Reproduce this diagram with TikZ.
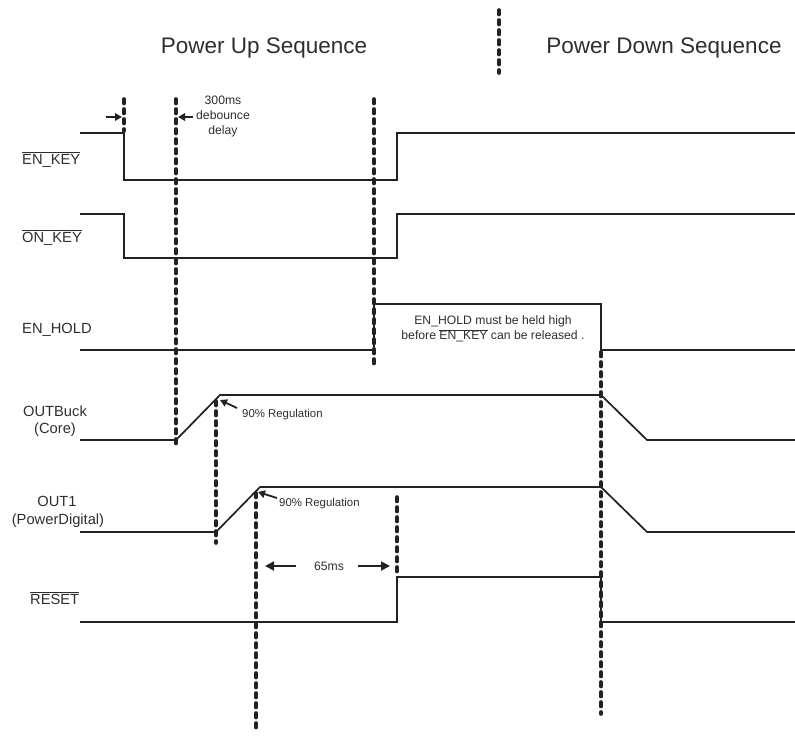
\documentclass[tikz,border=0pt]{standalone}
\usepackage{fontspec}
\setmainfont{Liberation Sans}
\usetikzlibrary{arrows.meta}
\definecolor{ink}{HTML}{222222}
\definecolor{txt}{HTML}{2E2E2E}
\newcommand{\ovl}[1]{$\overline{\mbox{#1}}$}
\begin{document}
\begin{tikzpicture}[x=1pt,y=-1pt,
  sig/.style={draw=ink, line width=1.7pt, line join=miter},
  marker/.style={draw=ink, line width=3.6pt, dash pattern=on 4.5pt off 5.5pt, line cap=round},
  ptr/.style={draw=ink, line width=1.8pt, -{Triangle[length=7pt,width=7.5pt]}},
  bigptr/.style={draw=ink, line width=1.8pt, -{Triangle[length=9pt,width=9pt]}},
  title/.style={text=txt, font=\fontsize{22.5}{27}\selectfont, inner sep=0pt, anchor=base},
  lbl/.style={text=txt, font=\fontsize{14.7}{17}\selectfont, inner sep=0pt},
  note/.style={text=txt, font=\fontsize{12.2}{15}\selectfont, inner sep=0pt, align=center},
  small/.style={text=txt, font=\fontsize{11.4}{14}\selectfont, inner sep=0pt, anchor=base west}
]
\useasboundingbox (0,0) rectangle (795,736);

% titles
\node[title] (tup) at (264,53) {Power Up Sequence};
\node[title] (tdown) at (664,53) {Power Down Sequence};
\draw[marker] (499,10) -- (499,73);

% signal labels
\node[lbl, anchor=base west] (lenkey) at (22,164) {\ovl{EN\_KEY}};
\node[lbl, anchor=base west] (lonkey) at (22,242) {\ovl{ON\_KEY}};
\node[lbl, anchor=base west] (lenhold) at (22,333) {EN\_HOLD};
\node[lbl, anchor=base] (lbuck) at (55,416) {OUTBuck};
\node[lbl, anchor=base] (lcore) at (55,433) {(Core)};
\node[lbl, anchor=base] (lout) at (57,506) {OUT1};
\node[lbl, anchor=base] (lpd) at (58,524) {(PowerDigital)};
\node[lbl, anchor=base west] (lreset) at (30,604) {\ovl{RESET}};

% waveforms
\draw[sig] (80,133) -- (124,133) -- (124,180) -- (397,180) -- (397,133) -- (795,133);
\draw[sig] (80,214) -- (124,214) -- (124,258) -- (397,258) -- (397,214) -- (795,214);
\draw[sig] (80,350) -- (374,350) -- (374,304) -- (601,304) -- (601,350) -- (795,350);
\draw[sig] (80,440) -- (176,440) -- (220,395) -- (601,395) -- (647,440) -- (795,440);
\draw[sig] (80,532) -- (216,532) -- (260,487) -- (601,487) -- (647,532) -- (795,532);
\draw[sig] (80,622) -- (397,622) -- (397,577) -- (601,577) -- (601,622) -- (795,622);

% event markers
\coordinate (m1t) at (124,99);  \coordinate (m1b) at (124,131);
\coordinate (m2t) at (176,99);  \coordinate (m2b) at (176,448);
\coordinate (m3t) at (374,99);  \coordinate (m3b) at (374,368);
\coordinate (m4t) at (216,401); \coordinate (m4b) at (216,543);
\coordinate (m5t) at (256,493); \coordinate (m5b) at (256,731);
\coordinate (m6t) at (397,497); \coordinate (m6b) at (397,575);
\coordinate (m7t) at (601,352); \coordinate (m7b) at (601,714);
\draw[marker] (m1t) -- (m1b);
\draw[marker] (m2t) -- (m2b);
\draw[marker] (m3t) -- (m3b);
\draw[marker] (m4t) -- (m4b);
\draw[marker] (m5t) -- (m5b);
\draw[marker] (m6t) -- (m6b);
\draw[marker] (m7t) -- (m7b);

% debounce
\coordinate (a1s) at (106,117); \coordinate (a1e) at (122,117);
\coordinate (a2s) at (193,117); \coordinate (a2e) at (178,117);
\draw[ptr] (a1s) -- (a1e);
\draw[ptr] (a2s) -- (a2e);
\node[note, anchor=base] (deb) at (223,134) {300ms\\debounce\\delay};

% EN_HOLD note
\node[note, anchor=base] (hold) at (493,339.5) {EN\_HOLD must be held high\\before \ovl{EN\_KEY} can be released .};

% 90% regulation
\node[small] (reg1) at (242,417) {90\% Regulation};
\node[small] (reg2) at (279,506) {90\% Regulation};
\coordinate (r1s) at (237,408); \coordinate (r1e) at (220,400);
\coordinate (r2s) at (277,498); \coordinate (r2e) at (258,492);
\draw[ptr] (r1s) -- (r1e);
\draw[ptr] (r2s) -- (r2e);

% 65ms
\node[note, anchor=center] (t65) at (329,566) {65ms};
\coordinate (b1s) at (296,566); \coordinate (b1e) at (265,566);
\coordinate (b2s) at (358,566); \coordinate (b2e) at (390,566);
\draw[bigptr] (b1s) -- (b1e);
\draw[bigptr] (b2s) -- (b2e);
\end{tikzpicture}
\end{document}
